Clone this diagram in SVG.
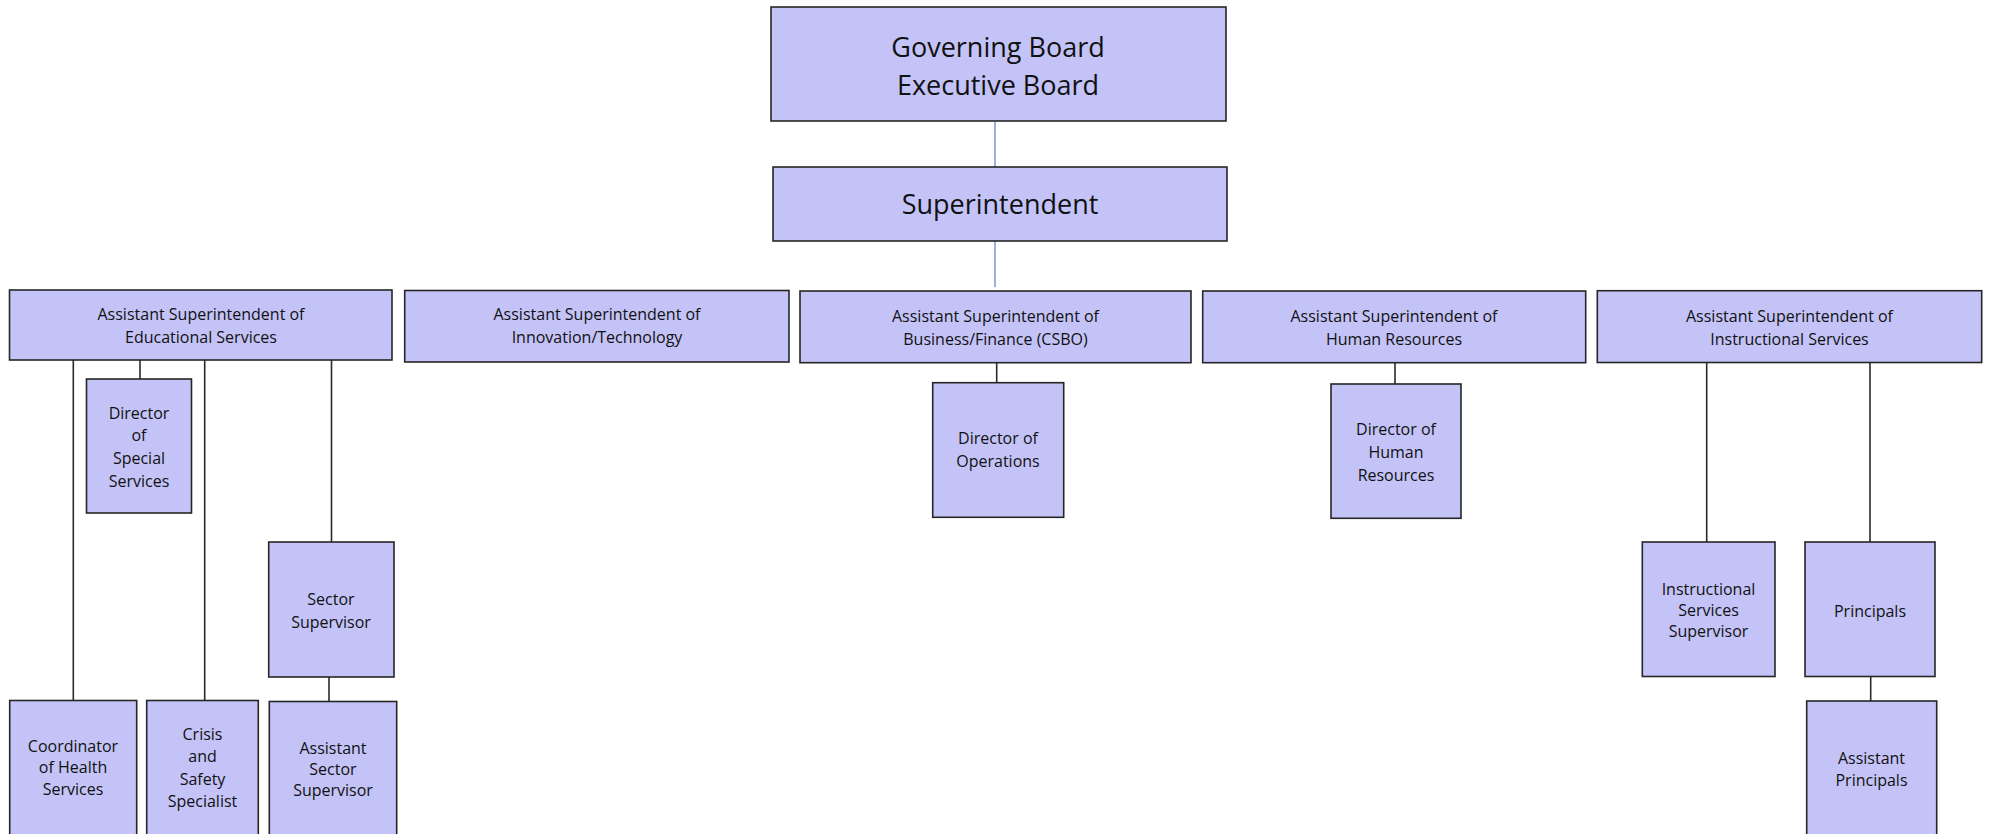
<svg xmlns="http://www.w3.org/2000/svg" width="1991" height="834" viewBox="0 0 1991 834">
<style>
.box{fill:#c4c3f8;stroke:#262626;stroke-width:1.6}
.t{font-family:"Open Sans","Noto Sans","DejaVu Sans",sans-serif;font-size:16px;fill:#111;text-anchor:middle}
.big{font-size:27px}
.c{stroke:#2a2a2a;stroke-width:1.6;fill:none}
.cb{stroke:#7f9fd6;stroke-width:1.6;fill:none}
</style>
<rect width="1991" height="834" fill="#ffffff"/>
<g id="connectors">
<line class="cb" x1="995" y1="122" x2="995" y2="167"/>
<line class="cb" x1="995" y1="241" x2="995" y2="287"/>
<line class="c" x1="73.3" y1="360" x2="73.3" y2="700.5"/>
<line class="c" x1="140" y1="360" x2="140" y2="379"/>
<line class="c" x1="204.7" y1="360" x2="204.7" y2="700.5"/>
<line class="c" x1="331.5" y1="360" x2="331.5" y2="542"/>
<line class="c" x1="329" y1="677" x2="329" y2="701.5"/>
<line class="c" x1="996.7" y1="362.7" x2="996.7" y2="382.7"/>
<line class="c" x1="1395" y1="362.7" x2="1395" y2="384"/>
<line class="c" x1="1706.7" y1="362.5" x2="1706.7" y2="542"/>
<line class="c" x1="1870" y1="362.5" x2="1870" y2="542"/>
<line class="c" x1="1870.7" y1="676.5" x2="1870.7" y2="701"/>
</g>
<g id="governing-board">
<rect class="box" x="771" y="7" width="455" height="114"/>
<text class="t big" x="998" y="57">Governing Board</text>
<text class="t big" x="998" y="95">Executive Board</text>
</g>
<g id="superintendent">
<rect class="box" x="773" y="167" width="454" height="74"/>
<text class="t big" x="1000" y="214">Superintendent</text>
</g>
<g id="asst-educational">
<rect class="box" x="9.5" y="290" width="382.5" height="70"/>
<text class="t" x="201" y="320">Assistant Superintendent of</text>
<text class="t" x="201" y="343">Educational Services</text>
</g>
<g id="asst-innovation">
<rect class="box" x="404.7" y="290.5" width="384.3" height="71.5"/>
<text class="t" x="597" y="320">Assistant Superintendent of</text>
<text class="t" x="597" y="343">Innovation/Technology</text>
</g>
<g id="asst-business">
<rect class="box" x="800" y="291" width="391" height="71.7"/>
<text class="t" x="995.5" y="322">Assistant Superintendent of</text>
<text class="t" x="995.5" y="345">Business/Finance (CSBO)</text>
</g>
<g id="asst-hr">
<rect class="box" x="1202.7" y="291" width="383" height="71.7"/>
<text class="t" x="1394" y="322">Assistant Superintendent of</text>
<text class="t" x="1394" y="345">Human Resources</text>
</g>
<g id="asst-instructional">
<rect class="box" x="1597.3" y="290.7" width="384.4" height="71.8"/>
<text class="t" x="1789.5" y="322">Assistant Superintendent of</text>
<text class="t" x="1789.5" y="345">Instructional Services</text>
</g>
<g id="director-special-services">
<rect class="box" x="86.5" y="379" width="105" height="134"/>
<text class="t" x="139" y="418.5">Director</text>
<text class="t" x="139" y="441">of</text>
<text class="t" x="139" y="463.7">Special</text>
<text class="t" x="139" y="486.5">Services</text>
</g>
<g id="sector-supervisor">
<rect class="box" x="268.7" y="542" width="125.3" height="135"/>
<text class="t" x="331" y="604.5">Sector</text>
<text class="t" x="331" y="628">Supervisor</text>
</g>
<g id="coordinator-health">
<rect class="box" x="9.7" y="700.5" width="127" height="150"/>
<text class="t" x="73" y="752">Coordinator</text>
<text class="t" x="73" y="773">of Health</text>
<text class="t" x="73" y="794.5">Services</text>
</g>
<g id="crisis-safety">
<rect class="box" x="146.7" y="700.5" width="111.6" height="150"/>
<text class="t" x="202.5" y="739.5">Crisis</text>
<text class="t" x="202.5" y="762">and</text>
<text class="t" x="202.5" y="784.5">Safety</text>
<text class="t" x="202.5" y="807">Specialist</text>
</g>
<g id="asst-sector-supervisor">
<rect class="box" x="269.3" y="701.5" width="127.4" height="150"/>
<text class="t" x="333" y="753.5">Assistant</text>
<text class="t" x="333" y="775">Sector</text>
<text class="t" x="333" y="796">Supervisor</text>
</g>
<g id="director-operations">
<rect class="box" x="932.7" y="382.7" width="131" height="134.6"/>
<text class="t" x="998" y="444">Director of</text>
<text class="t" x="998" y="466.7">Operations</text>
</g>
<g id="director-hr">
<rect class="box" x="1331" y="384" width="130" height="134.3"/>
<text class="t" x="1396" y="435">Director of</text>
<text class="t" x="1396" y="457.5">Human</text>
<text class="t" x="1396" y="480.5">Resources</text>
</g>
<g id="instructional-supervisor">
<rect class="box" x="1642.3" y="542" width="132.7" height="134.5"/>
<text class="t" x="1708.5" y="594.5">Instructional</text>
<text class="t" x="1708.5" y="615.7">Services</text>
<text class="t" x="1708.5" y="637">Supervisor</text>
</g>
<g id="principals">
<rect class="box" x="1805" y="542" width="130" height="134.5"/>
<text class="t" x="1870" y="616.5">Principals</text>
</g>
<g id="assistant-principals">
<rect class="box" x="1806.7" y="701" width="130" height="150"/>
<text class="t" x="1871.5" y="763.5">Assistant</text>
<text class="t" x="1871.5" y="785.7">Principals</text>
</g>
</svg>
